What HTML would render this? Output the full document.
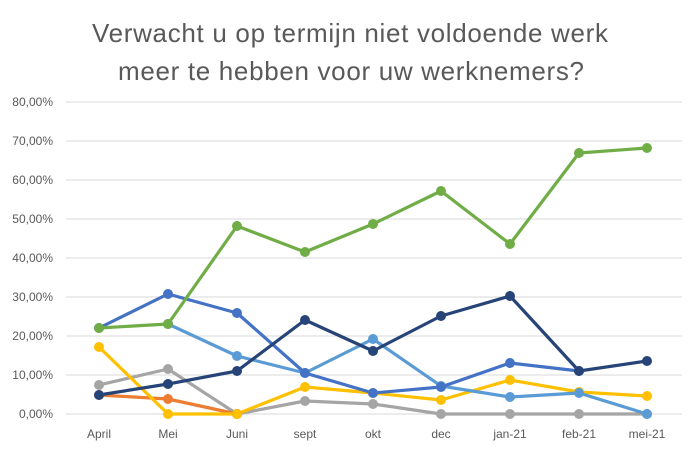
<!DOCTYPE html>
<html><head><meta charset="utf-8"><style>
html,body{margin:0;padding:0;background:#fff;}
svg{display:block;font-family:"Liberation Sans",sans-serif;}
</style></head><body>
<svg width="696" height="454" viewBox="0 0 696 454">
<rect width="696" height="454" fill="#fff"/>
<g font-size="26" fill="#595959" text-anchor="middle">
<text x="350" y="42" textLength="516" lengthAdjust="spacing">Verwacht u op termijn niet voldoende werk</text>
<text x="351" y="80" textLength="466" lengthAdjust="spacing">meer te hebben voor uw werknemers?</text>
</g>
<g stroke="#d9d9d9" stroke-width="1">
<line x1="66" x2="682" y1="102" y2="102"/><line x1="66" x2="682" y1="141" y2="141"/>
<line x1="66" x2="682" y1="180" y2="180"/><line x1="66" x2="682" y1="219" y2="219"/>
<line x1="66" x2="682" y1="258" y2="258"/><line x1="66" x2="682" y1="297" y2="297"/>
<line x1="66" x2="682" y1="336" y2="336"/><line x1="66" x2="682" y1="375" y2="375"/>
<line x1="66" x2="682" y1="414" y2="414"/>
</g>
<g font-size="12" fill="#595959" text-anchor="end">
<text x="53" y="106">80,00%</text><text x="53" y="145">70,00%</text><text x="53" y="184">60,00%</text>
<text x="53" y="223">50,00%</text><text x="53" y="262">40,00%</text><text x="53" y="301">30,00%</text>
<text x="53" y="340">20,00%</text><text x="53" y="379">10,00%</text><text x="53" y="418">0,00%</text>
</g>
<g font-size="12" fill="#595959" text-anchor="middle">
<text x="99" y="438">April</text><text x="168" y="438">Mei</text><text x="237" y="438">Juni</text>
<text x="305" y="438">sept</text><text x="373" y="438">okt</text><text x="441" y="438">dec</text>
<text x="510" y="438">jan-21</text><text x="579" y="438">feb-21</text><text x="647" y="438">mei-21</text>
</g>
<g fill="none" stroke-width="3.2" stroke-linejoin="round">
<polyline stroke="#a5a5a5" points="99,385 168,369 237,414 305,401 373,404 441,414 510,414 579,414 647,414"/>
<polyline stroke="#ed7d31" points="99,395 168,399 237,414"/>
<polyline stroke="#ffc000" points="99,347 168,414 237,414 305,387 373,393 441,400 510,380 579,392 647,396"/>
<polyline stroke="#5b9bd5" points="168,324 237,356 305,373 373,339 441,386 510,397 579,393 647,414"/>
<polyline stroke="#4472c4" points="99,328 168,294 237,313 305,373 373,393 441,387 510,363 579,371"/>
<polyline stroke="#264478" points="99,395 168,384 237,371 305,320 373,351 441,316 510,296 579,371 647,361"/>
<polyline stroke="#70ad47" points="99,328 168,324 237,226 305,252 373,224 441,191 510,244 579,153 647,148"/>
</g>
<g fill="#a5a5a5"><circle cx="99" cy="385" r="5"/><circle cx="168" cy="369" r="5"/><circle cx="237" cy="414" r="5"/><circle cx="305" cy="401" r="5"/><circle cx="373" cy="404" r="5"/><circle cx="441" cy="414" r="5"/><circle cx="510" cy="414" r="5"/><circle cx="579" cy="414" r="5"/><circle cx="647" cy="414" r="5"/></g>
<g fill="#ed7d31"><circle cx="99" cy="395" r="5"/><circle cx="168" cy="399" r="5"/><circle cx="237" cy="414" r="5"/></g>
<g fill="#ffc000"><circle cx="99" cy="347" r="5"/><circle cx="168" cy="414" r="5"/><circle cx="237" cy="414" r="5"/><circle cx="305" cy="387" r="5"/><circle cx="373" cy="393" r="5"/><circle cx="441" cy="400" r="5"/><circle cx="510" cy="380" r="5"/><circle cx="579" cy="392" r="5"/><circle cx="647" cy="396" r="5"/></g>
<g fill="#5b9bd5"><circle cx="168" cy="324" r="5"/><circle cx="237" cy="356" r="5"/><circle cx="305" cy="373" r="5"/><circle cx="373" cy="339" r="5"/><circle cx="441" cy="386" r="5"/><circle cx="510" cy="397" r="5"/><circle cx="579" cy="393" r="5"/><circle cx="647" cy="414" r="5"/></g>
<g fill="#4472c4"><circle cx="99" cy="328" r="5"/><circle cx="168" cy="294" r="5"/><circle cx="237" cy="313" r="5"/><circle cx="305" cy="373" r="5"/><circle cx="373" cy="393" r="5"/><circle cx="441" cy="387" r="5"/><circle cx="510" cy="363" r="5"/><circle cx="579" cy="371" r="5"/></g>
<g fill="#264478"><circle cx="99" cy="395" r="5"/><circle cx="168" cy="384" r="5"/><circle cx="237" cy="371" r="5"/><circle cx="305" cy="320" r="5"/><circle cx="373" cy="351" r="5"/><circle cx="441" cy="316" r="5"/><circle cx="510" cy="296" r="5"/><circle cx="579" cy="371" r="5"/><circle cx="647" cy="361" r="5"/></g>
<g fill="#70ad47"><circle cx="99" cy="328" r="5"/><circle cx="168" cy="324" r="5"/><circle cx="237" cy="226" r="5"/><circle cx="305" cy="252" r="5"/><circle cx="373" cy="224" r="5"/><circle cx="441" cy="191" r="5"/><circle cx="510" cy="244" r="5"/><circle cx="579" cy="153" r="5"/><circle cx="647" cy="148" r="5"/></g>
</svg>
</body></html>
